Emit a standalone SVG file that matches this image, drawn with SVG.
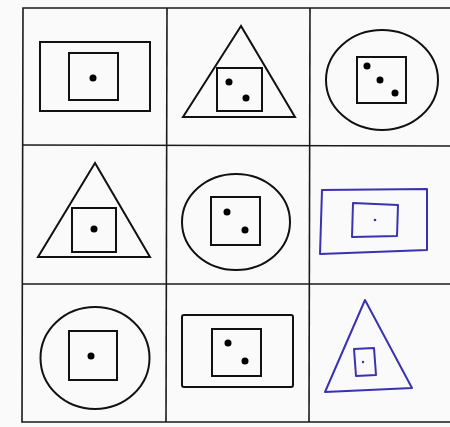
<svg xmlns="http://www.w3.org/2000/svg" width="450" height="427" viewBox="0 0 450 427">
<style>
.g{fill:none;stroke:#1a1a1a;stroke-width:1.6}
.s{fill:none;stroke:#111;stroke-width:2}
.d{fill:#000}
.b{fill:none;stroke:#3a32b0;stroke-width:2;stroke-linejoin:round}
.bd{fill:#3a32b0}
</style>
<rect width="450" height="427" fill="#fafafa"/>
<g id="grid">
<polyline class="g" points="450,8 23,8 22,422 450,422"/>
<line class="g" x1="167" y1="8" x2="166" y2="422"/>
<line class="g" x1="310" y1="8" x2="309" y2="422"/>
<line class="g" x1="22" y1="145" x2="450" y2="146"/>
<line class="g" x1="22" y1="284" x2="450" y2="284"/>
</g>
<g id="r1c1">
<rect class="s" x="40" y="42" width="110" height="69"/>
<rect class="s" x="69" y="53" width="49" height="47"/>
<circle class="d" cx="93" cy="78" r="3.5"/>
</g>
<g id="r1c2">
<polygon class="s" points="241,26 183,117 295,117"/>
<rect class="s" x="217" y="68" width="45" height="43"/>
<circle class="d" cx="229" cy="82" r="3.5"/>
<circle class="d" cx="246" cy="98" r="3.5"/>
</g>
<g id="r1c3">
<ellipse class="s" cx="382" cy="80" rx="56" ry="50"/>
<rect class="s" x="357" y="57" width="49" height="46"/>
<circle class="d" cx="367" cy="66" r="3.5"/>
<circle class="d" cx="380" cy="80" r="3.5"/>
<circle class="d" cx="395" cy="93" r="3.5"/>
</g>
<g id="r2c1">
<polygon class="s" points="95,163 38,257 150,257"/>
<rect class="s" x="72" y="208" width="44" height="44"/>
<circle class="d" cx="94" cy="229" r="3.5"/>
</g>
<g id="r2c2">
<ellipse class="s" cx="236" cy="222" rx="54" ry="48"/>
<rect class="s" x="211" y="197" width="49" height="48"/>
<circle class="d" cx="227" cy="212" r="3.5"/>
<circle class="d" cx="245" cy="230" r="3.5"/>
</g>
<g id="r2c3">
<polygon class="b" points="322,190 427,189 427,250 320,254"/>
<polygon class="b" points="353,203 398,205 397,236 352,237"/>
<circle class="bd" cx="375" cy="220" r="1.3"/>
</g>
<g id="r3c1">
<ellipse class="s" cx="95" cy="358" rx="54.5" ry="51"/>
<rect class="s" x="69" y="331" width="48" height="49"/>
<circle class="d" cx="91" cy="356" r="3.5"/>
</g>
<g id="r3c2">
<rect class="s" x="182" y="315" width="111" height="72" rx="2"/>
<rect class="s" x="212" y="329" width="49" height="47"/>
<circle class="d" cx="228" cy="343" r="3.5"/>
<circle class="d" cx="245" cy="361" r="3.5"/>
</g>
<g id="r3c3">
<polygon class="b" points="365,300 325,392 412,388"/>
<polygon class="b" points="354,349 374,348 376,375 356,376"/>
<circle class="bd" cx="363" cy="362" r="1.2"/>
</g>
</svg>
